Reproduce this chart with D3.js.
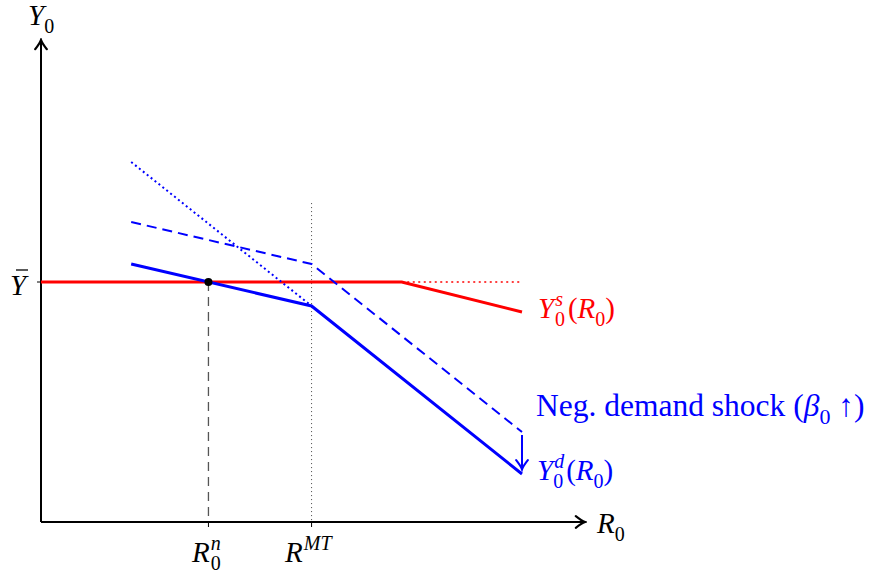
<!DOCTYPE html>
<html>
<head>
<meta charset="utf-8">
<script src="https://cdn.jsdelivr.net/npm/d3@7"></script>
<style>
  body { margin: 0; background: #fff; }
  text { font-family: "Liberation Serif", "Times New Roman", serif; }
</style>
</head>
<body>
<div id="chart"></div>
<script>
// curve data (model units)
const demand = [[3, 8.6], [9, 7.2], [16, 1.6]]
const demandShifted = [[3, 10.0], [9, 8.6], [16, 3.0]]
const demandSteep = [[3, 12.0], [9, 7.2]]
const supply = [[0, 8], [12, 8], [16, 7]]
const supplyFlat = [[12, 8], [16, 8]]
const yBar = 8
const rNatural = 5.57
const rMT = 9
const rMTTop = 10.63
const shockArrow = [[16, 2.9], [16, 1.75]]

const width = 874, height = 577

const svg = d3.select('#chart').append('svg')
    .attr('width', width)
    .attr('height', height)

const x = d3.scaleLinear().domain([0, 16]).range([41, 522])
const y = d3.scaleLinear().domain([0, 8]).range([522, 282])

const line = d3.line().x(d => x(d[0])).y(d => y(d[1]))

// arrow heads
const defs = svg.append('defs')
function head(id, color, size) {
    defs.append('marker')
        .attr('id', id)
        .attr('viewBox', '-10 -6 12 12')
        .attr('refX', 0).attr('refY', 0)
        .attr('markerWidth', size).attr('markerHeight', size)
        .attr('markerUnits', 'userSpaceOnUse')
        .attr('orient', 'auto')
        .append('path')
        .attr('d', 'M-8,-5 Q-3,-1 0,0 Q-3,1 -8,5')
        .attr('fill', 'none')
        .attr('stroke', color)
        .attr('stroke-width', 1.8)
        .attr('stroke-linecap', 'round')
}
head('ax', '#000', 14)
head('blue', '#0000ff', 14)

// axes
svg.append('line')
    .attr('x1', x(0)).attr('y1', y(0))
    .attr('x2', x(0)).attr('y2', y(16.07))
    .attr('stroke', '#000').attr('stroke-width', 2)
    .attr('marker-end', 'url(#ax)')
svg.append('line')
    .attr('x1', x(0)).attr('y1', y(0))
    .attr('x2', x(18.1)).attr('y2', y(0))
    .attr('stroke', '#000').attr('stroke-width', 2)
    .attr('marker-end', 'url(#ax)')

// ticks
svg.append('line')
    .attr('x1', x(0) - 4).attr('x2', x(0))
    .attr('y1', y(yBar)).attr('y2', y(yBar))
    .attr('stroke', '#000').attr('stroke-width', 1)
;[rNatural, rMT].forEach(v => {
    svg.append('line')
        .attr('x1', x(v)).attr('x2', x(v))
        .attr('y1', y(0)).attr('y2', y(0) + 5)
        .attr('stroke', '#000').attr('stroke-width', 1)
})

// guide lines
svg.append('line')
    .attr('x1', x(rNatural)).attr('x2', x(rNatural))
    .attr('y1', y(yBar)).attr('y2', y(0))
    .attr('stroke', '#555').attr('stroke-width', 1.3)
    .attr('stroke-dasharray', '9,6')
svg.append('line')
    .attr('x1', x(rMT)).attr('x2', x(rMT))
    .attr('y1', y(rMTTop)).attr('y2', y(0))
    .attr('stroke', '#444').attr('stroke-width', 1)
    .attr('stroke-dasharray', '1,3')

// supply
svg.append('path').datum(supplyFlat)
    .attr('d', line).attr('fill', 'none')
    .attr('stroke', '#ff0000').attr('stroke-width', 1.5)
    .attr('stroke-dasharray', '2,3.5')
svg.append('path').datum(supply)
    .attr('d', line).attr('fill', 'none')
    .attr('stroke', '#ff0000').attr('stroke-width', 3)

// demand
svg.append('path').datum(demandSteep)
    .attr('d', line).attr('fill', 'none')
    .attr('stroke', '#0000ff').attr('stroke-width', 2)
    .attr('stroke-dasharray', '2,3')
svg.append('path').datum(demandShifted)
    .attr('d', line).attr('fill', 'none')
    .attr('stroke', '#0000ff').attr('stroke-width', 2)
    .attr('stroke-dasharray', '10,6')
svg.append('path').datum(demand)
    .attr('d', line).attr('fill', 'none')
    .attr('stroke', '#0000ff').attr('stroke-width', 3)

svg.append('path').datum(shockArrow)
    .attr('d', line).attr('fill', 'none')
    .attr('stroke', '#0000ff').attr('stroke-width', 2)
    .attr('marker-end', 'url(#blue)')

// equilibrium dot
svg.append('circle')
    .attr('cx', x(rNatural)).attr('cy', y(yBar))
    .attr('r', 4).attr('fill', '#000')

// math labels: parts = {t, i (italic), sub, sup, dx}
function mathText(px, py, parts, color, size) {
    size = size || 29
    const small = Math.round(size * 0.7)
    const t = svg.append('text')
        .attr('x', px).attr('y', py)
        .attr('font-size', size)
        .attr('fill', color || '#000')
    let shift = 0
    parts.forEach(p => {
        const s = t.append('tspan').text(p.t)
        if (p.i) s.attr('font-style', 'italic')
        let target = 0
        if (p.sub) target = Math.round(size * 0.26)
        if (p.sup) target = -Math.round(size * 0.4)
        if (p.sub || p.sup) s.attr('font-size', small)
        if (target !== shift) { s.attr('dy', target - shift); shift = target }
        if (p.dx) s.attr('dx', p.dx)
    })
    return t
}

mathText(28, 25, [{t: 'Y', i: 1}, {t: '0', sub: 1}])
mathText(10, 295, [{t: 'Y', i: 1}])
svg.append('line').attr('x1', 16).attr('x2', 28).attr('y1', 270).attr('y2', 270)
    .attr('stroke', '#000').attr('stroke-width', 1.3)
mathText(597, 533, [{t: 'R', i: 1}, {t: '0', sub: 1}])
mathText(192, 562, [{t: 'R', i: 1}, {t: 'n', i: 1, sup: 1, dx: 1}, {t: '0', sub: 1, dx: -10}])
mathText(285, 562, [{t: 'R', i: 1}, {t: 'MT', i: 1, sup: 1, dx: 1}])

mathText(538, 318, [{t: 'Y', i: 1}, {t: 's', i: 1, sup: 1, dx: 1}, {t: '0', sub: 1, dx: -8}, {t: '(', dx: 3}, {t: 'R', i: 1}, {t: '0', sub: 1}, {t: ')'}], '#ff0000')
mathText(536, 416, [{t: 'Neg. demand shock ('}, {t: 'β', i: 1}, {t: '0', sub: 1}, {t: ' ↑)'}], '#0000ff', 31.5)
mathText(537, 480, [{t: 'Y', i: 1}, {t: 'd', i: 1, sup: 1, dx: 1}, {t: '0', sub: 1, dx: -11}, {t: '(', dx: 3}, {t: 'R', i: 1}, {t: '0', sub: 1}, {t: ')'}], '#0000ff')
</script>
</body>
</html>
